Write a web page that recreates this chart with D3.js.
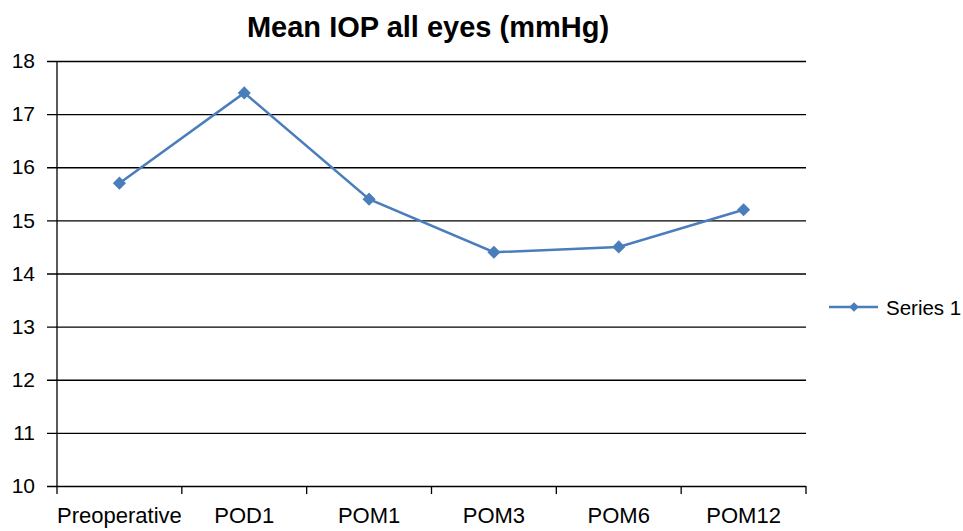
<!DOCTYPE html>
<html>
<head>
<meta charset="utf-8">
<script src="https://cdn.jsdelivr.net/npm/d3@7"></script>
<style>
  body { margin: 0; background: #fff; }
  text { font-family: "Liberation Sans", Arial, sans-serif; fill: #000; }
</style>
</head>
<body>
<svg id="chart"></svg>
<script>
const categories = ["Preoperative", "POD1", "POM1", "POM3", "POM6", "POM12"];
const values = [15.7, 17.4, 15.4, 14.4, 14.5, 15.2];
const yTicks = [10, 11, 12, 13, 14, 15, 16, 17, 18];
const seriesName = "Series 1";
const title = "Mean IOP all eyes (mmHg)";

const w = 963, h = 531;
const m = { left: 57, right: 157, top: 61, bottom: 45 };
const lineColor = "#4a7ebb";

const svg = d3.select("#chart").attr("width", w).attr("height", h);

const x = d3.scaleBand().domain(categories).range([m.left, w - m.right]);
const y = d3.scaleLinear().domain([10, 18]).range([h - m.bottom, m.top]);

// gridlines + y ticks
const yAxis = d3.axisLeft(y)
    .tickValues(yTicks)
    .tickSizeOuter(0)
    .tickPadding(0);

const gy = svg.append("g")
    .attr("transform", "translate(" + (m.left - 10) + ",0)")
    .call(yAxis);
gy.select(".domain").remove();
gy.selectAll(".tick line")
    .attr("stroke", "#000").attr("stroke-width", 1.3)
    .attr("x1", 0).attr("x2", w - m.right - m.left + 10);
gy.selectAll(".tick text").attr("x", -12).attr("font-size", 21);

// y axis line
svg.append("line")
    .attr("x1", m.left).attr("x2", m.left)
    .attr("y1", y(18)).attr("y2", y(10))
    .attr("stroke", "#000").attr("stroke-width", 1.3);

// x axis
const xAxis = d3.axisBottom(x).tickSize(0).tickPadding(21);
const gx = svg.append("g")
    .attr("transform", "translate(0," + y(10) + ")")
    .call(xAxis);
gx.select(".domain").remove();
gx.selectAll(".tick text").attr("font-size", 22);

// category boundary ticks
const bounds = categories.map(c => x(c)).concat([x(categories[categories.length - 1]) + x.bandwidth()]);
svg.append("g").selectAll("line")
    .data(bounds)
    .join("line")
    .attr("x1", d => d).attr("x2", d => d)
    .attr("y1", y(10)).attr("y2", y(10) + 8)
    .attr("stroke", "#000").attr("stroke-width", 1.3);

// series line
const line = d3.line()
    .x((d, i) => x(categories[i]) + x.bandwidth() / 2)
    .y(d => y(d));

svg.append("path")
    .datum(values)
    .attr("d", line)
    .attr("fill", "none")
    .attr("stroke", lineColor)
    .attr("stroke-width", 2.5);

const diamond = d3.symbol().type(d3.symbolDiamond2).size(110);
svg.append("g").selectAll("path")
    .data(values)
    .join("path")
    .attr("d", diamond)
    .attr("transform", (d, i) => "translate(" + (x(categories[i]) + x.bandwidth() / 2) + "," + y(d) + ")")
    .attr("fill", lineColor);

// title
svg.append("text")
    .attr("x", 428).attr("y", 37)
    .attr("text-anchor", "middle")
    .attr("font-size", 29)
    .attr("font-weight", "bold")
    .text(title);

// legend
const lg = svg.append("g").attr("transform", "translate(829,307)");
lg.append("line").attr("x1", 0).attr("x2", 49).attr("y1", 0).attr("y2", 0)
    .attr("stroke", lineColor).attr("stroke-width", 2.5);
lg.append("path").attr("d", d3.symbol().type(d3.symbolDiamond2).size(60))
    .attr("transform", "translate(25,0)").attr("fill", lineColor);
lg.append("text").attr("x", 57).attr("y", 8).attr("font-size", 20.5).text(seriesName);
</script>
</body>
</html>
